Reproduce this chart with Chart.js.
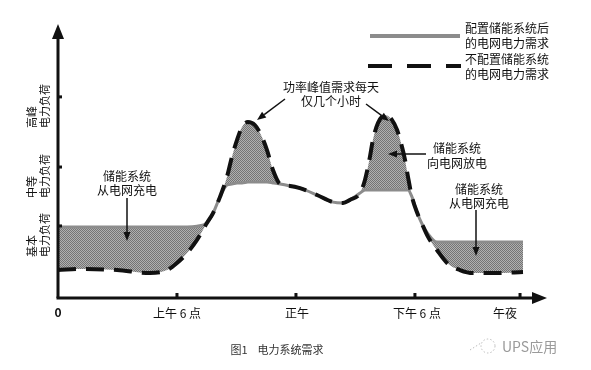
<!DOCTYPE html>
<html><head><meta charset="utf-8">
<script src="https://cdn.jsdelivr.net/npm/chart.js@4/dist/chart.umd.min.js"></script>
<style>html,body{margin:0;padding:0;background:#fff;} #wrap{width:591px;height:370px;position:relative;}</style>
</head><body><div id="wrap"><canvas id="c" width="591" height="370"></canvas></div>
<script>
// ---- data (hours of day, relative load units 0-100) ----
const hours = [0,1.26,2.98,4.64,5.50,6.00,6.51,7.01,7.51,7.82,8.17,8.52,8.77,9.03,9.28,9.58,9.93,10.19,10.54,10.84,11.20,11.70,12.20,13.06,13.87,14.37,14.72,15.23,15.48,15.73,15.88,16.14,16.49,16.84,17.10,17.35,17.50,17.65,17.85,18.10,18.36,18.66,19.11,19.62,20.27,20.93,22.14,23.45];
const withStorage = [25.9,25.9,25.9,25.9,25.9,25.9,25.9,26.2,27.4,31.0,36.9,41.2,41.6,42.0,42.0,42.3,42.3,42.3,42.3,42.0,41.6,40.9,40.1,37.6,35.0,34.7,35.8,38.3,39.4,39.4,39.4,39.4,39.4,39.4,39.4,39.4,39.4,39.4,36.9,31.4,27.0,23.4,20.4,20.4,20.4,20.4,20.4,20.4];
const withoutStorage = [10.2,10.6,10.2,9.1,10.2,12.8,16.4,21.2,27.4,31.0,36.9,44.2,51.5,57.7,62.4,64.2,63.1,60.2,54.0,46.7,41.6,40.9,40.1,37.6,35.0,34.7,35.8,38.3,43.1,51.5,57.7,63.9,66.8,65.0,61.3,55.1,50.4,44.2,36.9,31.4,27.0,22.3,17.5,12.8,10.2,9.1,9.1,9.5];
const xTickValues = [0,6,12,18,23.3];
const xTickLabels = ['0','上午 6 点','正午','下午 6 点','午夜'];
const yTickValues = [26.3,47.8,73.4];
const yTickLabels = [['基本','电力负荷'],['中等','电力负荷'],['高峰','电力负荷']];
const seriesNames = [['配置储能系统后','的电网电力需求'],['不配置储能系统','的电网电力需求']];
const noteCharge = ['储能系统','从电网充电'];
const noteDischarge = ['储能系统','向电网放电'];
const notePeak = ['功率峰值需求每天','仅几个小时'];
const caption = '图1    电力系统需求';
const watermark = 'UPS应用';

const FONT = '"Noto Sans CJK SC","Noto Sans",sans-serif';
const canvas = document.getElementById('c');
const ctx = canvas.getContext('2d');

// halftone fill pattern
const pc = document.createElement('canvas'); pc.width = 2; pc.height = 2;
const px = pc.getContext('2d');
px.fillStyle = '#b0b0b0'; px.fillRect(0,0,2,2);
px.fillStyle = '#747474'; px.fillRect(0,0,1,1); px.fillRect(1,1,1,1);
const pattern = ctx.createPattern(pc, 'repeat');

function arrow(c, x1, y1, x2, y2, w) {
  c.save();
  c.strokeStyle = '#111'; c.fillStyle = '#111'; c.lineWidth = w || 1.5;
  const a = Math.atan2(y2 - y1, x2 - x1), L = 9, H = 3.5;
  const bx = x2 - L * Math.cos(a), by = y2 - L * Math.sin(a);
  c.beginPath(); c.moveTo(x1, y1); c.lineTo(bx, by); c.stroke();
  c.beginPath(); c.moveTo(x2, y2);
  c.lineTo(bx + H * Math.sin(a), by - H * Math.cos(a));
  c.lineTo(bx - H * Math.sin(a), by + H * Math.cos(a));
  c.closePath(); c.fill();
  c.restore();
}
function lines(c, arr, x, y, lh) { arr.forEach((t, i) => c.fillText(t, x, y + i * lh)); }

const decor = {
  id: 'decor',
  afterDatasetsDraw(chart) {
    const c = chart.ctx, xs = chart.scales.x, ys = chart.scales.y, a = chart.chartArea;
    const x0 = a.left, y0 = a.bottom;
    c.save();
    // axes
    c.strokeStyle = '#111'; c.fillStyle = '#111'; c.lineWidth = 3;
    c.beginPath(); c.moveTo(x0, y0); c.lineTo(x0, a.top + 12); c.stroke();
    c.beginPath(); c.moveTo(x0 - 1.5, y0); c.lineTo(a.right - 12, y0); c.stroke();
    c.beginPath(); c.moveTo(x0, a.top); c.lineTo(x0 - 6, a.top + 15); c.lineTo(x0 + 6, a.top + 15); c.closePath(); c.fill();
    c.beginPath(); c.moveTo(a.right, y0); c.lineTo(a.right - 15, y0 - 6); c.lineTo(a.right - 15, y0 + 6); c.closePath(); c.fill();
    // x ticks + labels
    c.font = '12px ' + FONT; c.textAlign = 'center'; c.textBaseline = 'middle';
    const labelShift = [0, 0, 1, 2, -15];
    xTickValues.forEach((v, i) => {
      const p = xs.getPixelForValue(v);
      if (v > 0) c.fillRect(p - 1.5, y0 - 5, 3, 5);
      if (i === 0) { c.save(); c.font = 'bold 12px ' + FONT; c.fillText(xTickLabels[i], p, y0 + 14); c.restore(); }
      else c.fillText(xTickLabels[i], p + labelShift[i], y0 + 15);
    });
    // y ticks + rotated labels
    c.font = '11px ' + FONT;
    yTickValues.forEach((v, i) => {
      const p = ys.getPixelForValue(v);
      c.fillRect(x0, p - 1.5, 4, 3);
      const lab = yTickLabels[i];
      [[32, lab[0]], [45, lab[1]]].forEach(([xx, t]) => {
        c.save(); c.translate(xx, p + 31); c.rotate(-Math.PI / 2);
        c.textAlign = 'left'; c.textBaseline = 'middle'; c.fillText(t, 0, 0); c.restore();
      });
    });
    // legend
    c.lineWidth = 4; c.strokeStyle = '#8c8c8c';
    c.beginPath(); c.moveTo(370, 36); c.lineTo(460, 36); c.stroke();
    c.strokeStyle = '#111'; c.setLineDash([24, 15]);
    c.beginPath(); c.moveTo(368, 66); c.lineTo(461, 66); c.stroke();
    c.setLineDash([]);
    c.font = '12px ' + FONT; c.textAlign = 'left'; c.textBaseline = 'middle';
    lines(c, seriesNames[0], 465, 28, 15);
    lines(c, seriesNames[1], 465, 59, 15);
    // annotations
    c.textAlign = 'center';
    lines(c, notePeak, 331, 87, 14);
    arrow(c, 285, 99, 257, 120);
    arrow(c, 366, 104, 389, 121);
    lines(c, noteCharge, 127, 176, 14);
    arrow(c, 127, 198, 127, 241);
    lines(c, noteDischarge, 457, 148, 15);
    arrow(c, 426, 154, 388, 154);
    lines(c, noteCharge, 479, 189, 14);
    arrow(c, 476, 210, 476, 256);
    // caption & watermark
    c.font = '11px ' + FONT; c.fillStyle = '#333';
    c.fillText(caption, 277, 350);
    c.textAlign = 'left'; c.font = '14px ' + FONT; c.fillStyle = '#9a9a9a';
    c.fillText(watermark, 502, 347);
    c.strokeStyle = '#bbb'; c.lineWidth = 1; c.setLineDash([1.5, 2]);
    c.beginPath(); c.arc(488, 346, 7, 0, Math.PI * 2); c.stroke();
    c.beginPath(); c.moveTo(470, 350); c.lineTo(481, 343); c.stroke();
    c.setLineDash([]);
    c.restore();
  }
};

new Chart(ctx, {
  type: 'line',
  data: {
    datasets: [
      { label: seriesNames[1].join(''), data: hours.map((h, i) => ({ x: h, y: withoutStorage[i] })),
        borderColor: '#111', borderWidth: 4, borderDash: [18, 10], pointRadius: 0,
        cubicInterpolationMode: 'monotone', fill: false, clip: false },
      { label: seriesNames[0].join(''), data: hours.map((h, i) => ({ x: h, y: withStorage[i] })),
        borderColor: '#8c8c8c', borderWidth: 3, pointRadius: 0,
        cubicInterpolationMode: 'monotone', fill: { target: 0, above: pattern, below: pattern }, clip: false }
    ]
  },
  options: {
    responsive: false, animation: false, events: [],
    layout: { padding: { left: 58, top: 24, right: 44, bottom: 72 } },
    scales: {
      x: { type: 'linear', min: 0, max: 24.66, display: false },
      y: { min: 0, max: 100, display: false }
    },
    plugins: { legend: { display: false }, tooltip: { enabled: false } }
  },
  plugins: [decor]
});
</script></body></html>
